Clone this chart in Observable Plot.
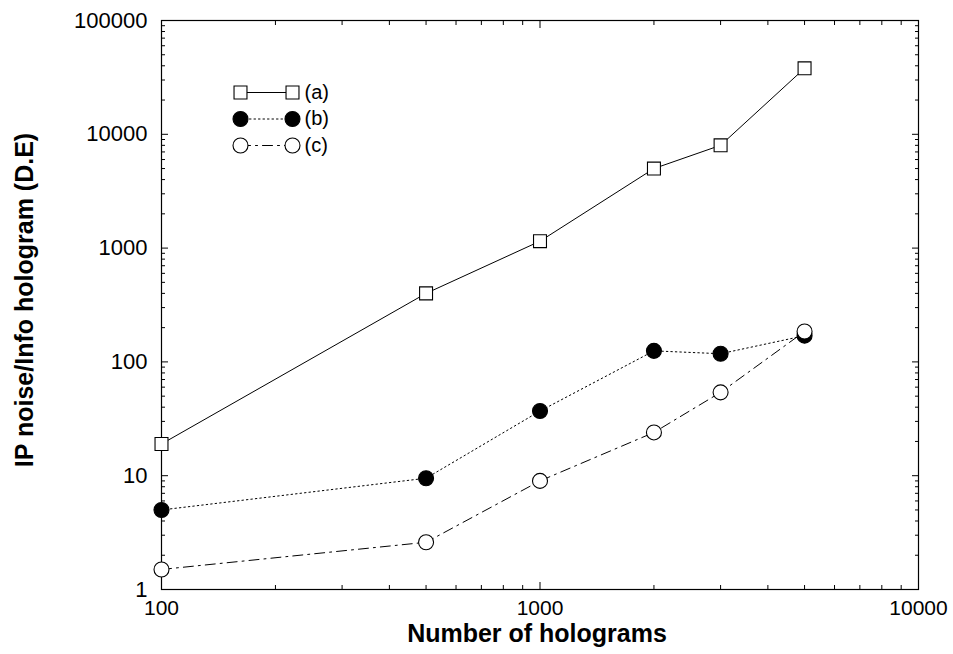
<!DOCTYPE html>
<html><head><meta charset="utf-8">
<script src="https://cdn.jsdelivr.net/npm/d3@7"></script>
<script src="https://cdn.jsdelivr.net/npm/@observablehq/plot@0.6"></script>
<style>
html,body{margin:0;padding:0;background:#fff;}
svg{font-family:"Liberation Sans",Arial,sans-serif;}
</style>
</head><body>
<div id="chart"></div>
<script>
const hologramCounts = [100, 500, 1000, 2000, 3000, 5000];
const seriesA = [19, 400, 1150, 5000, 8000, 38000];
const seriesB = [5, 9.5, 37, 125, 118, 170];
const seriesC = [1.5, 2.6, 9, 24, 54, 185];
const seriesNames = ["(a)", "(b)", "(c)"];
const xMajorTicks = [100, 1000, 10000];
const yMajorTicks = [1, 10, 100, 1000, 10000, 100000];

const minorOf = (majors) => majors.slice(0, -1).flatMap(m => [2,3,4,5,6,7,8,9].map(k => k * m));
const xMinorTicks = minorOf(xMajorTicks);
const yMinorTicks = minorOf(yMajorTicks);

const styles = {
  "(a)": {symbol: "square", fill: "white", dash: null, r: 7.3},
  "(b)": {symbol: "circle", fill: "black", dash: "1.5,3", r: 7.5},
  "(c)": {symbol: "circle", fill: "white", dash: "10,5,2,5", r: 7.5}
};
const allSeries = [seriesA, seriesB, seriesC];
const rows = seriesNames.flatMap((s, i) => hologramCounts.map((x, j) => ({series: s, x, y: allSeries[i][j]})));

const marks = [];
// axes labels
marks.push(Plot.axisY({ticks: yMajorTicks, tickFormat: d => String(d), tickSize: 0, tickPadding: 14, fontSize: 22, label: null}));
marks.push(Plot.axisX({ticks: xMajorTicks, tickFormat: d => String(d), tickSize: 0, tickPadding: 11, fontSize: 21, label: null}));
// inward ticks on all four sides
for (const anchor of ["left", "right"]) {
  marks.push(Plot.axisY({anchor, ticks: yMajorTicks, tickSize: -7, tickFormat: () => "", label: null}));
  marks.push(Plot.axisY({anchor, ticks: yMinorTicks, tickSize: -4, tickFormat: () => "", label: null}));
}
for (const anchor of ["bottom", "top"]) {
  marks.push(Plot.axisX({anchor, ticks: xMajorTicks, tickSize: -7, tickFormat: () => "", label: null}));
  marks.push(Plot.axisX({anchor, ticks: xMinorTicks, tickSize: -4, tickFormat: () => "", label: null}));
}
marks.push(Plot.frame({stroke: "black", strokeWidth: 1.2}));

for (const s of seriesNames) {
  const st = styles[s];
  const data = rows.filter(d => d.series === s);
  marks.push(Plot.line(data, {x: "x", y: "y", stroke: "black", strokeWidth: 1, strokeDasharray: st.dash}));
}
for (const s of seriesNames) {
  const st = styles[s];
  const data = rows.filter(d => d.series === s);
  marks.push(Plot.dot(data, {x: "x", y: "y", symbol: st.symbol, r: st.r, fill: st.fill, stroke: "black", strokeWidth: 1.1}));
}

// legend
const lineShape = {draw(ctx, l) { ctx.moveTo(0, 0); ctx.lineTo(0, -l); }};
seriesNames.forEach((s, i) => {
  const st = styles[s];
  const dy = 72 + i * 26.5;
  marks.push(Plot.vector([s], {frameAnchor: "top-left", dx: 79, dy, rotate: 90, length: 52, anchor: "start", shape: lineShape, stroke: "black", strokeWidth: 1, strokeDasharray: st.dash}));
  for (const dx of [79, 131]) {
    marks.push(Plot.dot([s], {frameAnchor: "top-left", dx, dy, symbol: st.symbol, r: st.r, fill: st.fill, stroke: "black", strokeWidth: 1.1}));
  }
  marks.push(Plot.text([s], {frameAnchor: "top-left", dx: 143, dy, text: d => d, textAnchor: "start", lineAnchor: "middle", fontSize: 20, fill: "black"}));
});

const chart = Plot.plot({
  width: 953, height: 654,
  marginLeft: 161, marginRight: 35, marginTop: 20, marginBottom: 65,
  style: {fontFamily: '"Liberation Sans", Arial, sans-serif', color: "black", background: "white"},
  x: {type: "log", domain: [100, 10000]},
  y: {type: "log", domain: [1, 100000]},
  marks
});
const svg = d3.select(chart);
svg.append("text").attr("x", 537).attr("y", 642).attr("text-anchor", "middle")
  .attr("font-size", 25).attr("font-weight", "bold").attr("fill", "black").text("Number of holograms");
svg.append("text").attr("transform", "translate(33,300) rotate(-90)").attr("text-anchor", "middle")
  .attr("font-size", 25).attr("font-weight", "bold").attr("fill", "black").text("IP noise/Info hologram (D.E)");
document.getElementById("chart").appendChild(chart);
</script>
</body></html>
